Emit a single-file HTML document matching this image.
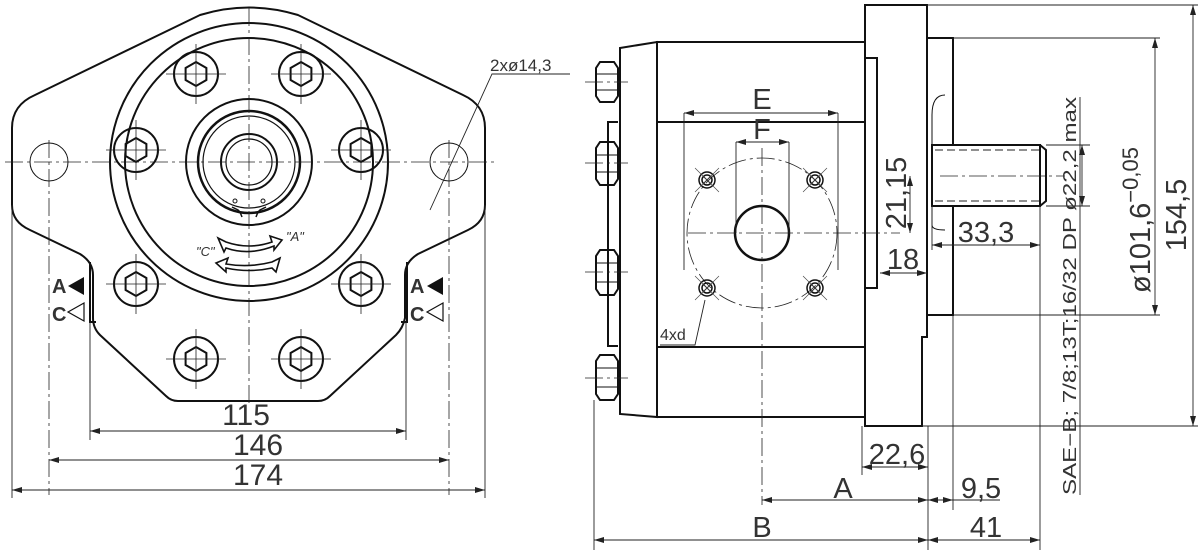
<!DOCTYPE html>
<html><head><meta charset="utf-8"><style>
html,body{margin:0;padding:0;background:#fff;}
svg{display:block;}
text{font-family:"Liberation Sans",sans-serif;fill:#333;}
</style></head><body>
<svg width="1200" height="557" viewBox="0 0 1200 557" xmlns="http://www.w3.org/2000/svg">
<defs>
<marker id="ar" markerWidth="10" markerHeight="6" refX="10" refY="3" orient="auto-start-reverse" markerUnits="userSpaceOnUse"><path d="M0,0 L10,3 L0,6 Z" fill="#222"/></marker>
<g id="bolt"><circle r="22" fill="none" stroke="#111" stroke-width="2"/><polygon points="0,-12 10.4,-6 10.4,6 0,12 -10.4,6 -10.4,-6" fill="none" stroke="#111" stroke-width="2"/><line x1="-30" y1="0" x2="30" y2="0" stroke="#222" stroke-width="0.8"/><line x1="0" y1="-30" x2="0" y2="30" stroke="#222" stroke-width="0.8"/></g>
<g id="hole"><circle r="8" fill="none" stroke="#111" stroke-width="1.5"/><circle r="5" fill="none" stroke="#111" stroke-width="1.5"/><line x1="-4" y1="-4" x2="4" y2="4" stroke="#111"/><line x1="-4" y1="4" x2="4" y2="-4" stroke="#111"/><line x1="-12" y1="-12" x2="12" y2="12" stroke="#444" stroke-width="0.6"/><line x1="-12" y1="12" x2="12" y2="-12" stroke="#444" stroke-width="0.6"/></g>
</defs>
<g fill="none" stroke="#111" stroke-width="2">
<path d="M12,128 Q12,105 35,95 L200,15 Q249,0 298,15 L463,95 Q485,105 485,128 L485,205 Q485,222 468,230 L418,254 Q405,262 405,275 L405,318 Q403,328 396,335 L330,396 Q325,401 318,401 L178,401 Q171,401 166,396 L100,335 Q93,328 93,318 L93,275 Q93,262 80,254 L30,230 Q12,222 12,205 Z"/>
<path d="M90,262 L90,322 L96,322 M407,262 L407,322 L401,322"/>
<circle cx="249" cy="162" r="139"/>
<circle cx="249" cy="162" r="124"/>
<circle cx="249" cy="162" r="63"/>
<circle cx="249" cy="162" r="51" stroke-width="2.5"/>
<circle cx="249" cy="162" r="46" stroke-width="1.2"/>
<circle cx="249" cy="162" r="28"/>
<circle cx="249" cy="162" r="23" stroke-width="1.2"/>
<circle cx="49" cy="162" r="19" stroke-width="1"/>
<circle cx="449" cy="162" r="19" stroke-width="1"/>
<path d="M232,207 L238,210 L240,212 L242,217 M266,207 L260,210 L258,212 L256,217" stroke-width="1.5"/>
<circle cx="235" cy="201" r="2" stroke-width="1"/><circle cx="263" cy="201" r="2" stroke-width="1"/>
</g>
<g stroke="#222" stroke-width="0.8" stroke-dasharray="18,4,3,4" fill="none">
<line x1="5" y1="162" x2="495" y2="162"/>
<line x1="249" y1="8" x2="249" y2="405"/>
<line x1="49" y1="140" x2="49" y2="495"/>
<line x1="449" y1="140" x2="449" y2="495"/>
</g>
<use href="#bolt" x="196" y="74"/><use href="#bolt" x="301" y="74"/>
<use href="#bolt" x="136" y="150"/><use href="#bolt" x="361" y="150"/>
<use href="#bolt" x="136" y="284"/><use href="#bolt" x="361" y="284"/>
<use href="#bolt" x="196" y="359"/><use href="#bolt" x="301" y="359"/>
<g fill="none" stroke="#111" stroke-width="1.6">
<path d="M218,238 L226,242 Q249,250 272,242 L270,236 L282,240 L274,250 L274,246 Q249,256 226,248 L224,252 Z"/>
<path d="M280,258 L272,262 Q249,268 226,264 L228,258 L216,263 L226,272 L226,268 Q249,273 272,268 L276,272 Z"/>
</g>
<text x="286" y="241" font-size="13" font-style="italic">"A"</text>
<text x="196" y="256" font-size="13" font-style="italic">"C"</text>
<g font-size="20" font-weight="bold">
<text x="52" y="293">A</text><text x="52" y="321">C</text>
<text x="410" y="293">A</text><text x="410" y="321">C</text>
</g>
<polygon points="68,286 84,277 84,295" fill="#111"/>
<polygon points="68,312 84,303 84,321" fill="none" stroke="#111" stroke-width="1.2"/>
<polygon points="427,286 443,277 443,295" fill="#111"/>
<polygon points="427,312 443,303 443,321" fill="none" stroke="#111" stroke-width="1.2"/>
<g stroke="#222" stroke-width="0.9" fill="none">
<line x1="90" y1="322" x2="90" y2="440"/><line x1="406" y1="322" x2="406" y2="440"/>
<line x1="12" y1="205" x2="12" y2="498"/><line x1="485" y1="205" x2="485" y2="498"/>
<line x1="90" y1="431" x2="406" y2="431" marker-start="url(#ar)" marker-end="url(#ar)"/>
<line x1="49" y1="460" x2="449" y2="460" marker-start="url(#ar)" marker-end="url(#ar)"/>
<line x1="12" y1="490" x2="485" y2="490" marker-start="url(#ar)" marker-end="url(#ar)"/>
<path d="M570,74 L492,74 L430,210" />
</g>
<g font-size="30" text-anchor="middle">
<text x="246" y="425">115</text><text x="258" y="455">146</text><text x="258" y="485">174</text>
</g>
<text x="490" y="71" font-size="17">2xø14,3</text>

<g fill="none" stroke="#111" stroke-width="2">
<path d="M620,48 L657,42 L657,417 L620,414 Z"/>
<path d="M618,122 L608,122 L608,346 L618,346"/>
<rect x="657" y="42" width="208" height="375"/>
<line x1="657" y1="122" x2="865" y2="122"/><line x1="657" y1="347" x2="865" y2="347"/>
<path d="M865,5 L927,5 L927,337 L922,337 L922,426 L865,426 Z"/>
<rect x="865" y="58" width="12" height="230"/>
<rect x="927" y="38" width="26" height="277"/>
<rect x="932" y="145" width="108" height="61" fill="#fff"/>
<path d="M1040,145 L1046,150 L1046,201 L1040,206" />
<path d="M945,95 Q932,95 932,115 L932,145 M932,206 L932,225 Q932,230 945,230" stroke-width="1"/>
<circle cx="762" cy="233" r="27" stroke-width="2.5"/>
<g stroke-width="2"><path d="M600,62 L614,62 L618,68 L618,96 L614,102 L600,102 L596,96 L596,68 Z"/><path d="M600,142 L614,142 L618,148 L618,179 L614,185 L600,185 L596,179 L596,148 Z"/><path d="M600,250 L614,250 L618,256 L618,289 L614,295 L600,295 L596,289 L596,256 Z"/><path d="M600,355 L614,355 L618,361 L618,394 L614,400 L600,400 L596,394 L596,361 Z"/></g>
<g stroke-width="1"><line x1="596" y1="74" x2="618" y2="74"/><line x1="596" y1="90" x2="618" y2="90"/><line x1="596" y1="155" x2="618" y2="155"/><line x1="596" y1="172" x2="618" y2="172"/><line x1="596" y1="263" x2="618" y2="263"/><line x1="596" y1="282" x2="618" y2="282"/><line x1="596" y1="368" x2="618" y2="368"/><line x1="596" y1="387" x2="618" y2="387"/></g>
</g>
<g stroke="#222" stroke-width="1" stroke-dasharray="8,4" fill="none">
<line x1="935" y1="150" x2="1040" y2="150"/><line x1="935" y1="201" x2="1040" y2="201"/>
</g>
<g stroke="#222" stroke-width="0.8" stroke-dasharray="18,4,3,4" fill="none">
<circle cx="762" cy="233" r="75"/>
<line x1="688" y1="233" x2="900" y2="233"/>
<line x1="762" y1="148" x2="762" y2="505"/>
<line x1="940" y1="176" x2="1065" y2="176"/>
<line x1="585" y1="82" x2="628" y2="82"/><line x1="585" y1="163" x2="628" y2="163"/><line x1="585" y1="272" x2="628" y2="272"/><line x1="585" y1="378" x2="628" y2="378"/>
</g>
<use href="#hole" x="707" y="180"/><use href="#hole" x="815" y="180"/><use href="#hole" x="707" y="288"/><use href="#hole" x="815" y="288"/>
<g stroke="#222" stroke-width="0.9" fill="none">
<line x1="684" y1="113" x2="684" y2="270"/><line x1="838" y1="113" x2="838" y2="270"/>
<line x1="684" y1="113" x2="838" y2="113" marker-start="url(#ar)" marker-end="url(#ar)"/>
<line x1="736" y1="142" x2="736" y2="233"/><line x1="789" y1="142" x2="789" y2="233"/>
<line x1="736" y1="142" x2="789" y2="142" marker-start="url(#ar)" marker-end="url(#ar)"/>
<path d="M660,345 L695,345 L705,300"/>
<line x1="910" y1="176" x2="910" y2="233" marker-start="url(#ar)" marker-end="url(#ar)"/>
<line x1="880" y1="273" x2="927" y2="273" marker-start="url(#ar)" marker-end="url(#ar)"/>
<line x1="932" y1="245" x2="1040" y2="245" marker-start="url(#ar)" marker-end="url(#ar)"/>
<line x1="932" y1="206" x2="932" y2="250"/>
<line x1="1040" y1="206" x2="1040" y2="550"/>
<line x1="1046" y1="145" x2="1090" y2="145"/><line x1="1046" y1="206" x2="1090" y2="206"/>
<line x1="1082" y1="145" x2="1082" y2="206" marker-start="url(#ar)" marker-end="url(#ar)"/>
<line x1="1080" y1="97" x2="1080" y2="495"/>
<line x1="953" y1="38" x2="1160" y2="38"/><line x1="953" y1="315" x2="1160" y2="315"/>
<line x1="1155" y1="38" x2="1155" y2="315" marker-start="url(#ar)" marker-end="url(#ar)"/>
<line x1="927" y1="5" x2="1198" y2="5"/><line x1="922" y1="426" x2="1198" y2="426"/>
<line x1="1193" y1="5" x2="1193" y2="426" marker-start="url(#ar)" marker-end="url(#ar)"/>
<line x1="862" y1="426" x2="862" y2="475"/><line x1="928" y1="426" x2="928" y2="550"/><line x1="953" y1="315" x2="953" y2="510"/>
<line x1="594" y1="400" x2="594" y2="550"/>
<line x1="862" y1="467" x2="928" y2="467" marker-start="url(#ar)" marker-end="url(#ar)"/>
<line x1="762" y1="500" x2="928" y2="500" marker-start="url(#ar)" marker-end="url(#ar)"/>
<line x1="928" y1="500" x2="953" y2="500" marker-start="url(#ar)" marker-end="url(#ar)"/>
<line x1="953" y1="500" x2="1000" y2="500"/>
<line x1="594" y1="540" x2="928" y2="540" marker-start="url(#ar)" marker-end="url(#ar)"/>
<line x1="928" y1="540" x2="1040" y2="540" marker-start="url(#ar)" marker-end="url(#ar)"/>
</g>
<g font-size="29" text-anchor="middle">
<text x="762" y="109">E</text><text x="762" y="139">F</text>
<text x="897" y="464">22,6</text><text x="843" y="498">A</text><text x="981" y="498">9,5</text>
<text x="762" y="537">B</text><text x="986" y="537">41</text>
<text x="986" y="242">33,3</text><text x="903" y="269">18</text>
<text transform="translate(906,193) rotate(-90)">21,15</text>
<text transform="translate(1186,215) rotate(-90)">154,5</text>
</g>
<text x="660" y="340" font-size="16">4xd</text>
<text transform="translate(1150,220) rotate(-90)" font-size="29" text-anchor="middle">ø101,6<tspan font-size="22" dy="-12">−0,05</tspan></text>
<text transform="translate(1076,495) rotate(-90)" font-size="18" textLength="398" lengthAdjust="spacingAndGlyphs">SAE−B; 7/8;13T;16/32  DP  ø22,2  max</text>
</svg>
</body></html>
